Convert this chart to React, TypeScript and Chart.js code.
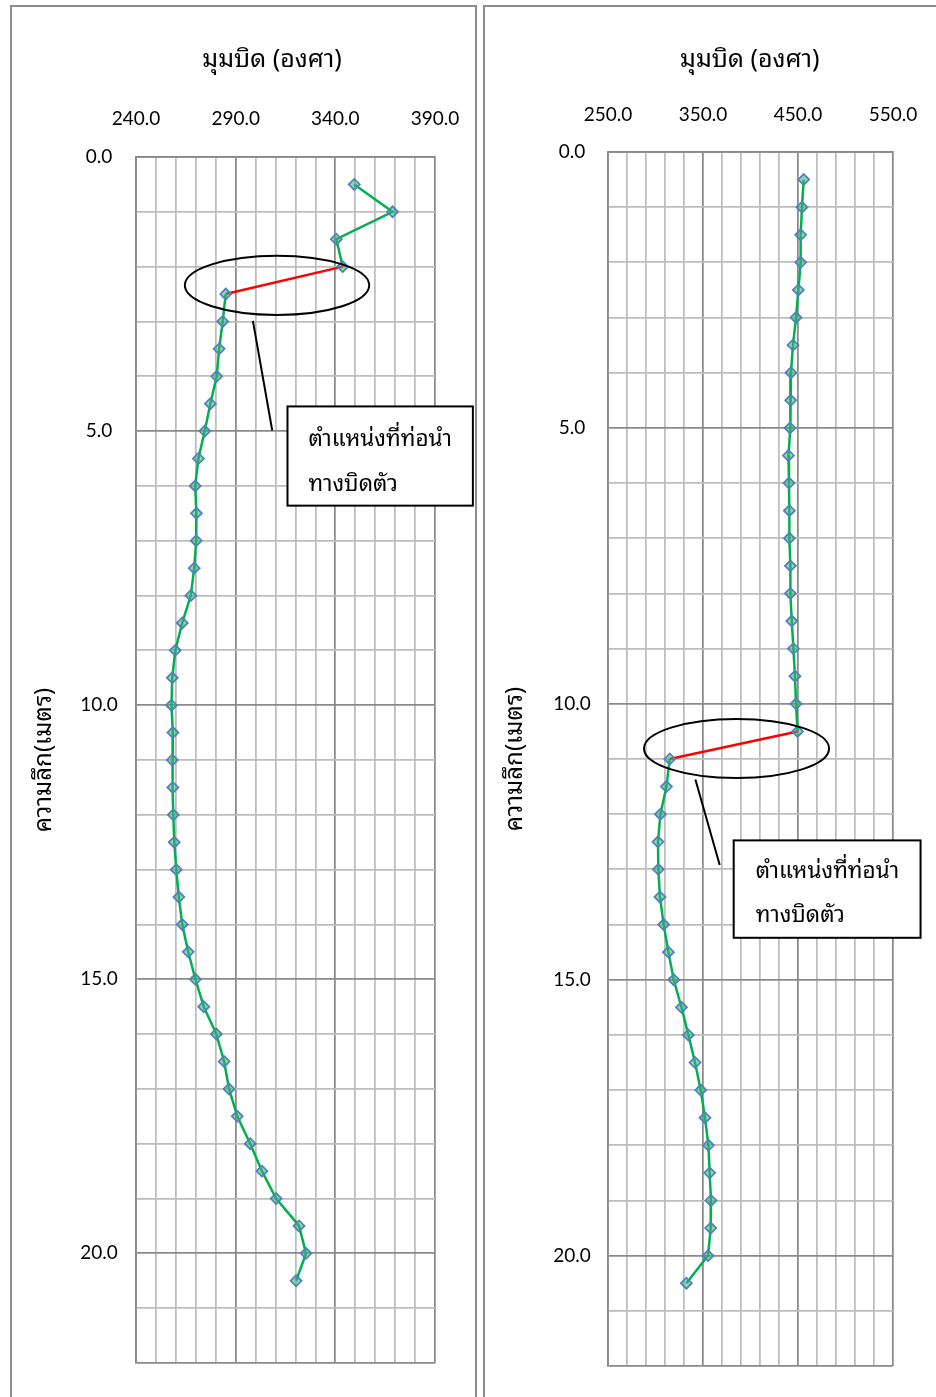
import React, { useEffect, useRef } from 'react';
import { Chart, registerables } from 'chart.js';

Chart.register(...registerables);

// ---------- data ----------
const depthM = [
  0.5, 1.0, 1.5, 2.0, 2.5, 3.0, 3.5, 4.0, 4.5, 5.0,
  5.5, 6.0, 6.5, 7.0, 7.5, 8.0, 8.5, 9.0, 9.5, 10.0,
  10.5, 11.0, 11.5, 12.0, 12.5, 13.0, 13.5, 14.0, 14.5, 15.0,
  15.5, 16.0, 16.5, 17.0, 17.5, 18.0, 18.5, 19.0, 19.5, 20.0,
  20.5,
];

const leftAngleDeg = [
  349.5, 368.7, 340.5, 343.7, 285.0, 283.5, 281.7, 280.5, 277.3, 274.5,
  271.3, 269.7, 270.3, 270.2, 269.2, 267.5, 263.2, 259.7, 258.2, 257.8,
  258.5, 258.2, 258.5, 258.7, 259.2, 260.2, 261.5, 263.2, 266.2, 269.8,
  274.0, 280.3, 284.2, 286.7, 290.8, 297.3, 303.2, 310.3, 321.8, 325.3,
  320.3,
];

const rightAngleDeg = [
  456.0, 454.2, 452.8, 452.8, 450.4, 447.9, 444.7, 442.6, 442.3, 441.6,
  439.9, 440.5, 440.9, 440.9, 442.0, 442.0, 443.4, 445.2, 446.8, 447.9,
  449.5, 315.0, 311.5, 305.2, 302.6, 303.0, 304.7, 308.6, 313.6, 319.2,
  327.3, 334.6, 341.6, 347.6, 352.1, 355.7, 357.0, 358.4, 358.1, 355.3,
  332.5,
];

const xTitle = 'มุมบิด (องศา)';
const yTitle = 'ความลึก(เมตร)';
const calloutLines = ['ตำแหน่งที่ท่อนำ', 'ทางบิดตัว'];

const leftXMin = 240;
const leftXMax = 390;
const leftXGridStep = 10;
const leftXLabelStep = 50;

const rightXMin = 250;
const rightXMax = 550;
const rightXGridStep = 20;
const rightXLabelStep = 100;

const depthMin = 0;
const depthMax = 22;
const depthGridStep = 1;
const depthLabelStep = 5;

const leftBreakDepth = 2.0;
const rightBreakDepth = 10.5;

// ---------- styles ----------
const THAI =
  '"Noto Sans Thai Looped", Loma, Garuda, "Tlwg Typo", "Noto Serif Thai", Tahoma, "Noto Sans Thai", sans-serif';
const NUM = 'Lato, "Open Sans", "Liberation Sans", sans-serif';
const GREEN = '#00b050';
const RED = '#ff0000';
const MAJOR = '#8a8a8a';
const MINOR = '#bdbdbd';
const TICK_SIZE = 19;
const TITLE_SIZE = 25;
const NOTE_SIZE = 22.5;

function isStep(v: number, base: number, step: number) {
  const r = (v - base) / step;
  return Math.abs(r - Math.round(r)) < 1e-6;
}

function makeDecor(note: any, titleAt: number, titleY: number) {
  return {
    id: 'decor',
    afterDraw(chart: any) {
      const { ctx } = chart;
      const x = chart.scales.x;
      ctx.save();
      ctx.fillStyle = '#000';
      ctx.font = `${TITLE_SIZE}px ${THAI}`;
      ctx.textAlign = 'center';
      ctx.textBaseline = 'middle';
      ctx.fillText(xTitle, x.getPixelForValue(titleAt), titleY);
      ctx.restore();
    },
    afterDatasetsDraw(chart: any) {
      const { ctx } = chart;
      const x = chart.scales.x;
      const y = chart.scales.y;
      const px = (v: number) => x.getPixelForValue(v);
      const py = (v: number) => y.getPixelForValue(v);
      ctx.save();
      ctx.strokeStyle = '#000';
      ctx.lineWidth = 2;
      const e = note.ellipse;
      const cx = px(e.cx);
      const cy = py(e.cy);
      const rx = Math.abs(px(e.cx + e.rx) - cx);
      const ry = Math.abs(py(e.cy + e.ry) - cy);
      ctx.beginPath();
      ctx.ellipse(cx, cy, rx, ry, 0, 0, Math.PI * 2);
      ctx.stroke();
      const l = note.leader;
      ctx.beginPath();
      ctx.moveTo(px(l.x1), py(l.y1));
      ctx.lineTo(px(l.x2), py(l.y2));
      ctx.stroke();
      const b = note.box;
      const bx1 = px(b.x1);
      const by1 = py(b.y1);
      const bx2 = px(b.x2);
      const by2 = py(b.y2);
      ctx.fillStyle = '#fff';
      ctx.fillRect(bx1, by1, bx2 - bx1, by2 - by1);
      ctx.strokeRect(bx1, by1, bx2 - bx1, by2 - by1);
      ctx.fillStyle = '#000';
      ctx.font = `${NOTE_SIZE}px ${THAI}`;
      ctx.textAlign = 'left';
      ctx.textBaseline = 'middle';
      calloutLines.forEach((t, i) => {
        ctx.fillText(t, bx1 + note.textDx, by1 + note.textDy[i]);
      });
      ctx.restore();
    },
  };
}

type Props = {
  left: number;
  width: number;
  height: number;
  angles: number[];
  xMin: number;
  xMax: number;
  xStep: number;
  xLabelStep: number;
  breakDepth: number;
  areaLeft: number;
  areaTop: number;
  padRight: number;
  padBottom: number;
  yTickCenter: number;
  xTickMid: number;
  titleAt: number;
  xTitleCenter: number;
  yTitleCenter: number;
  note: any;
};

function DepthChart(p: Props) {
  const ref = useRef<HTMLCanvasElement>(null);
  useEffect(() => {
    const canvas = ref.current as HTMLCanvasElement;
    const m = document.createElement('canvas').getContext('2d') as CanvasRenderingContext2D;
    m.font = `${TICK_SIZE}px ${NUM}`;
    const widest = m.measureText('10.0').width;
    const lh = TICK_SIZE * 1.2;
    const tlh = TITLE_SIZE * 1.2;
    const breakIdx = depthM.indexOf(p.breakDepth);
    const chart = new Chart(canvas, {
      type: 'scatter',
      data: {
        datasets: [
          {
            data: depthM.map((d, i) => ({ x: p.angles[i], y: d })),
            showLine: true,
            borderColor: GREEN,
            borderWidth: 2.5,
            segment: {
              borderColor: (c: any) => (c.p0DataIndex === breakIdx ? RED : GREEN),
            },
            pointStyle: 'rectRot',
            pointRadius: 5.5,
            pointBorderColor: '#4f81bd',
            pointBorderWidth: 1.75,
            pointBackgroundColor: 'rgba(60,175,120,0.55)',
            tension: 0,
          } as any,
        ],
      },
      options: {
        animation: false,
        responsive: false,
        maintainAspectRatio: false,
        events: [],
        layout: { padding: { left: 0, top: 0, right: p.padRight, bottom: p.padBottom } },
        plugins: { legend: { display: false }, tooltip: { enabled: false } },
        scales: {
          x: {
            type: 'linear',
            position: 'top',
            min: p.xMin,
            max: p.xMax,
            ticks: {
              stepSize: p.xStep,
              autoSkip: false,
              maxRotation: 0,
              minRotation: 0,
              padding: 0,
              color: '#000',
              font: { family: NUM, size: TICK_SIZE },
              callback: (v: any) => (isStep(Number(v), p.xMin, p.xLabelStep) ? Number(v).toFixed(1) : ''),
            },
            grid: {
              drawTicks: true,
              tickLength: p.areaTop - p.xTickMid - lh / 2,
              tickColor: 'rgba(0,0,0,0)',
              lineWidth: 1.75,
              color: (c: any) => {
                const v = c.tick ? c.tick.value : 0;
                return v === p.xMin || v === p.xMax || isStep(v, p.xMin, p.xLabelStep) ? MAJOR : MINOR;
              },
            },
            border: { color: MAJOR, width: 1.75 },
            title: { display: false, text: xTitle },
            afterFit: (s: any) => {
              s.height = p.areaTop;
            },
          },
          y: {
            type: 'linear',
            reverse: true,
            min: depthMin,
            max: depthMax,
            ticks: {
              stepSize: depthGridStep,
              autoSkip: false,
              crossAlign: 'center',
              padding: p.areaLeft - p.yTickCenter - widest / 2,
              color: '#000',
              font: { family: NUM, size: TICK_SIZE },
              callback: (v: any) => (isStep(Number(v), depthMin, depthLabelStep) ? Number(v).toFixed(1) : ''),
            },
            grid: {
              drawTicks: false,
              lineWidth: 1.75,
              color: (c: any) => {
                const v = c.tick ? c.tick.value : 0;
                return v === depthMin || v === depthMax || isStep(v, depthMin, depthLabelStep) ? MAJOR : MINOR;
              },
            },
            border: { color: MAJOR, width: 1.75 },
            title: {
              display: true,
              text: yTitle,
              color: '#000',
              font: { family: THAI, size: 24 },
              padding: { top: p.yTitleCenter - (24 * 1.2) / 2, bottom: 0 },
            },
            afterFit: (s: any) => {
              s.width = p.areaLeft;
            },
          },
        },
      } as any,
      plugins: [makeDecor(p.note, p.titleAt, p.xTitleCenter)],
    });
    return () => chart.destroy();
  }, []);
  return (
    <canvas
      ref={ref}
      width={p.width}
      height={p.height}
      style={{ position: 'absolute', left: p.left, top: 0, width: p.width, height: p.height }}
    />
  );
}

const leftNote = {
  ellipse: { cx: 310.75, cy: 2.34, rx: 46.25, ry: 0.54 },
  leader: { x1: 298.65, y1: 2.99, x2: 308.35, y2: 4.99 },
  box: { x1: 316, y1: 4.55, x2: 409, y2: 6.36 },
  textDx: 21,
  textDy: [33, 78],
};

const rightNote = {
  ellipse: { cx: 385.3, cy: 10.81, rx: 97.4, ry: 0.535 },
  leader: { x1: 342, y1: 11.37, x2: 367.6, y2: 12.92 },
  box: { x1: 382.3, y1: 12.475, x2: 579, y2: 14.24 },
  textDx: 22,
  textDy: [31, 75],
};

export default function App() {
  return (
    <div
      style={{
        position: 'absolute',
        left: 0,
        top: 0,
        width: 936,
        height: 1397,
        overflow: 'hidden',
        background: '#fff',
      }}
    >
      <div
        style={{
          position: 'absolute',
          left: 10,
          top: 5,
          width: 467,
          height: 1420,
          border: '2px solid #8d8d8d',
          boxSizing: 'border-box',
        }}
      />
      <div
        style={{
          position: 'absolute',
          left: 483,
          top: 5,
          width: 500,
          height: 1420,
          border: '2px solid #8d8d8d',
          boxSizing: 'border-box',
        }}
      />
      <DepthChart
        left={0}
        width={478}
        height={1397}
        angles={leftAngleDeg}
        xMin={leftXMin}
        xMax={leftXMax}
        xStep={leftXGridStep}
        xLabelStep={leftXLabelStep}
        breakDepth={leftBreakDepth}
        areaLeft={136}
        areaTop={157}
        padRight={43}
        padBottom={34}
        yTickCenter={99}
        xTickMid={119}
        titleAt={308.25}
        xTitleCenter={60}
        yTitleCenter={44}
        note={leftNote}
      />
      <DepthChart
        left={478}
        width={458}
        height={1397}
        angles={rightAngleDeg}
        xMin={rightXMin}
        xMax={rightXMax}
        xStep={rightXGridStep}
        xLabelStep={rightXLabelStep}
        breakDepth={rightBreakDepth}
        areaLeft={130}
        areaTop={152}
        padRight={43}
        padBottom={31}
        yTickCenter={94}
        xTickMid={115}
        titleAt={399.2}
        xTitleCenter={60}
        yTitleCenter={37}
        note={rightNote}
      />
    </div>
  );
}
